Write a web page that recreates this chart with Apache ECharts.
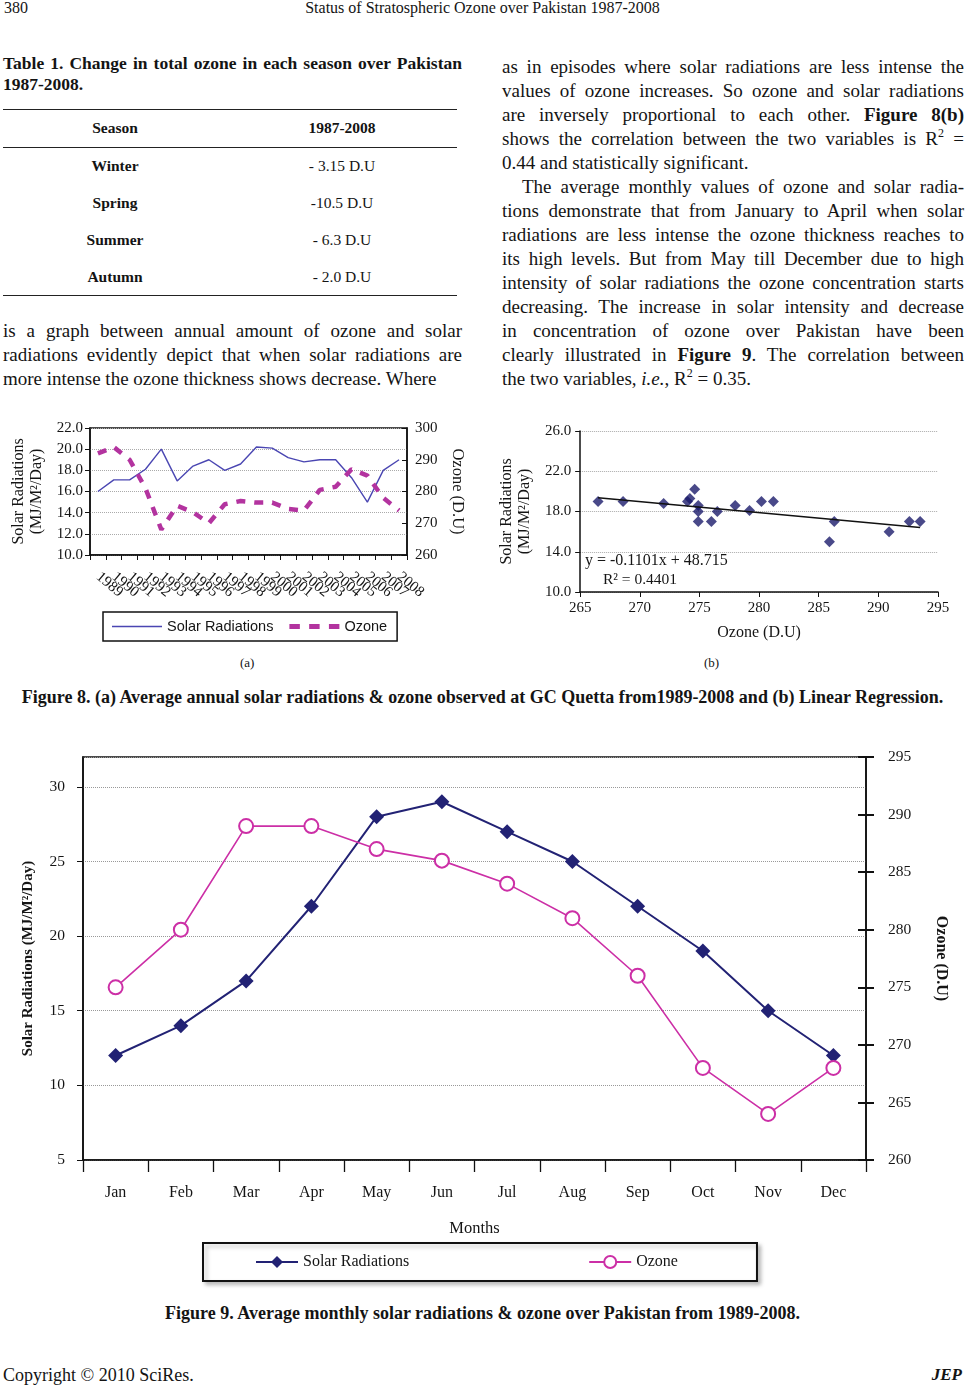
<!DOCTYPE html>
<html><head><meta charset="utf-8">
<script src="https://cdn.jsdelivr.net/npm/echarts@6/dist/echarts.min.js"></script>
<style>
body{margin:0;width:965px;height:1386px;position:relative;background:#fff;font-family:'Liberation Serif','Times New Roman',serif;color:#141414;overflow:hidden}
.a{position:absolute}
.jl{text-align:justify;text-align-last:justify;white-space:nowrap}
.ll{text-align:left;white-space:nowrap}
.body{font-size:19px;line-height:24px}
.rule{position:absolute;left:3px;width:454px;height:0;border-top:1.3px solid #222}
.cell{position:absolute;font-size:15.5px;line-height:18px;transform:translate(-50%,-50%);white-space:nowrap}
sup{font-size:12px;line-height:0;vertical-align:8px}
</style></head>
<body>
<div class="a" style="left:4px;top:-1px;font-size:16px;">380</div>
<div class="a" style="left:0;width:965px;top:-1px;font-size:16px;text-align:center;">Status of Stratospheric Ozone over Pakistan 1987-2008</div>

<div class="a" style="left:3px;width:459px;top:53px;font-size:17.5px;line-height:21px;font-weight:bold;">
<div class="jl">Table 1. Change in total ozone in each season over Pakistan</div>
<div class="ll">1987-2008.</div>
</div>
<div class="rule" style="top:109px"></div>
<div class="rule" style="top:147px"></div>
<div class="rule" style="top:295px"></div>
<div class="cell" style="left:115px;top:128px;font-weight:bold">Season</div>
<div class="cell" style="left:342px;top:128px;font-weight:bold">1987-2008</div>
<div class="cell" style="left:115px;top:166px;font-weight:bold">Winter</div>
<div class="cell" style="left:342px;top:166px;">- 3.15 D.U</div>
<div class="cell" style="left:115px;top:203px;font-weight:bold">Spring</div>
<div class="cell" style="left:342px;top:203px;">-10.5 D.U</div>
<div class="cell" style="left:115px;top:240px;font-weight:bold">Summer</div>
<div class="cell" style="left:342px;top:240px;">- 6.3 D.U</div>
<div class="cell" style="left:115px;top:277px;font-weight:bold">Autumn</div>
<div class="cell" style="left:342px;top:277px;">- 2.0 D.U</div>

<div class="a body" style="left:3px;width:459px;top:319px;">
<div class="jl">is a graph between annual amount of ozone and solar</div>
<div class="jl">radiations evidently depict that when solar radiations are</div>
<div class="ll">more intense the ozone thickness shows decrease. Where</div>
</div>

<div class="a body" style="left:502px;width:462px;top:55px;">
<div class="jl">as in episodes where solar radiations are less intense the</div>
<div class="jl">values of ozone increases. So ozone and solar radiations</div>
<div class="jl">are inversely proportional to each other. <b>Figure 8(b)</b></div>
<div class="jl">shows the correlation between the two variables is R<sup>2</sup> =</div>
<div class="ll">0.44 and statistically significant.</div>
<div class="jl" style="padding-left:20px">The average monthly values of ozone and solar radia-</div>
<div class="jl">tions demonstrate that from January to April when solar</div>
<div class="jl">radiations are less intense the ozone thickness reaches to</div>
<div class="jl">its high levels. But from May till December due to high</div>
<div class="jl">intensity of solar radiations the ozone concentration starts</div>
<div class="jl">decreasing. The increase in solar intensity and decrease</div>
<div class="jl">in concentration of ozone over Pakistan have been</div>
<div class="jl">clearly illustrated in <b>Figure 9</b>. The correlation between</div>
<div class="ll">the two variables, <i>i.e.</i>, R<sup>2</sup> = 0.35.</div>
</div>

<div id="c1" class="a" style="left:0;top:410px;width:480px;height:245px;"></div>
<div id="c2" class="a" style="left:490px;top:410px;width:475px;height:245px;"></div>
<div class="a" style="left:240px;top:655px;font-size:13px;">(a)</div>
<div class="a" style="left:704px;top:655px;font-size:13px;">(b)</div>
<div class="a" style="left:0;width:965px;top:687px;font-size:18px;font-weight:bold;text-align:center;white-space:nowrap;">Figure 8. (a) Average annual solar radiations &amp; ozone observed at GC Quetta from1989-2008 and (b) Linear Regression.</div>

<div id="c3" class="a" style="left:0;top:740px;width:965px;height:560px;"></div>
<div class="a" style="left:0;width:965px;top:1303px;font-size:18px;font-weight:bold;text-align:center;">Figure 9. Average monthly solar radiations &amp; ozone over Pakistan from 1989-2008.</div>

<div class="a" style="left:3px;top:1365px;font-size:18px;">Copyright © 2010 SciRes.</div>
<div class="a" style="right:3px;top:1365px;font-size:17px;font-weight:bold;font-style:italic;">JEP</div>

<script>
// ---------- Figure 8(a) data ----------
const years = ['1989','1990','1991','1992','1993','1994','1995','1996','1997','1998','1999','2000','2001','2002','2003','2004','2005','2006','2007','2008'];
const annualSolar = [16.0,17.1,17.1,18.1,20.0,17.0,18.4,19.0,18.0,18.6,20.2,20.1,19.2,18.8,19.0,19.0,17.3,15.0,18.0,19.0];
const annualOzone = [292,294,290,281,268,275.5,273.5,270,276,277,276.5,276.5,274.5,274,280.5,281.5,287,285,278,274];

// ---------- Figure 8(b) data ----------
const scatterOzone = [266.5,268.6,272.0,274.0,274.2,274.6,274.9,274.9,274.9,276.0,276.5,278.0,279.2,280.2,281.2,285.9,286.3,290.9,292.6,293.5];
const scatterSolar = [19.0,19.0,18.8,19.0,19.3,20.2,18.6,18.0,17.0,17.0,18.0,18.6,18.1,19.0,19.0,15.0,17.0,16.0,17.0,17.0];
const trendSlope = -0.1101;
const trendIntercept = 48.715;
const trendR2 = 0.4401;

// ---------- Figure 9 data ----------
const months = ['Jan','Feb','Mar','Apr','May','Jun','Jul','Aug','Sep','Oct','Nov','Dec'];
const monthlySolar = [12,14,17,22,28,29,27,25,22,19,15,12];
const monthlyOzone = [275,280,289,289,287,286,284,281,276,268,264,268];

const SERIF = "'Liberation Serif','Times New Roman',serif";
const SANS = "'Liberation Sans',Arial,sans-serif";
const INK = '#151515';

// ----- Chart 1 -----
const c1 = echarts.init(document.getElementById('c1'));
c1.setOption({
  animation:false,
  grid:{left:90,top:18,width:317,height:127,show:true,borderColor:'#111',borderWidth:1.5},
  legend:{
    left:103, top:202, orient:'horizontal',
    borderColor:'#111', borderWidth:1.5, padding:[7,10,7,9], itemGap:16,
    itemWidth:50, itemHeight:10,
    textStyle:{fontFamily:SANS,fontSize:14.5,color:INK},
    data:[
      {name:'Solar Radiations', icon:'path://M0,0h50v1.4h-50z'},
      {name:'Ozone', icon:'path://M0,0h9v4.5h-9z M17,0h9v4.5h-9z M34,0h9v4.5h-9z'}
    ]
  },
  xAxis:{
    type:'category', data:years, boundaryGap:true,
    axisLine:{lineStyle:{color:'#111',width:1.5}},
    axisTick:{show:true,interval:0,length:5,lineStyle:{color:'#111'}},
    axisLabel:{interval:0,rotate:-40,fontFamily:SERIF,fontSize:15,color:INK,margin:20}
  },
  yAxis:[{
    type:'value', min:10, max:22, interval:2,
    name:'Solar Radiations\n(MJ/M²/Day)', nameLocation:'middle', nameGap:42, nameRotate:90,
    nameTextStyle:{fontFamily:SERIF,fontSize:16,color:INK,lineHeight:18},
    axisLine:{show:true,lineStyle:{color:'#111',width:1.5}},
    axisTick:{show:true,length:5,lineStyle:{color:'#111'}},
    axisLabel:{fontFamily:SERIF,fontSize:15,color:INK,margin:7,formatter:v=>v.toFixed(1)},
    splitLine:{show:true,lineStyle:{color:'#aaa',type:'dotted',width:1}}
  },{
    type:'value', min:260, max:300, interval:10, position:'right',
    name:'Ozone (D.U)', nameLocation:'middle', nameGap:42, nameRotate:-90,
    nameTextStyle:{fontFamily:SERIF,fontSize:16.5,color:INK},
    axisLine:{show:true,lineStyle:{color:'#111',width:1.5}},
    axisTick:{show:true,inside:true,length:5,lineStyle:{color:'#111'}},
    axisLabel:{fontFamily:SERIF,fontSize:15,color:INK,margin:8},
    splitLine:{show:false}
  }],
  series:[{
    name:'Solar Radiations', type:'line', data:annualSolar, yAxisIndex:0,
    symbol:'none', color:'#4a46b2', lineStyle:{width:1.4,color:'#4a46b2'}
  },{
    name:'Ozone', type:'line', data:annualOzone, yAxisIndex:1,
    symbol:'none', color:'#b3339f', lineStyle:{width:4.5,color:'#b3339f',type:[9,9]}
  }]
});

// ----- Chart 2 -----
const c2 = echarts.init(document.getElementById('c2'));
const xMin = Math.min(...scatterOzone), xMax = Math.max(...scatterOzone);
c2.setOption({
  animation:false,
  grid:{left:90,top:21,width:358,height:161},
  xAxis:{
    type:'value', min:265, max:295, interval:5,
    name:'Ozone (D.U)', nameLocation:'middle', nameGap:33,
    nameTextStyle:{fontFamily:SERIF,fontSize:16,color:INK},
    axisLine:{show:true,lineStyle:{color:'#111',width:1.5}},
    axisTick:{show:true,length:5,lineStyle:{color:'#111'}},
    axisLabel:{fontFamily:SERIF,fontSize:15,color:INK,margin:9},
    splitLine:{show:false}
  },
  yAxis:{
    type:'value', min:10, max:26, interval:4,
    name:'Solar Radiations\n(MJ/M²/Day)', nameLocation:'middle', nameGap:42, nameRotate:90,
    nameTextStyle:{fontFamily:SERIF,fontSize:16,color:INK,lineHeight:18},
    axisLine:{show:true,lineStyle:{color:'#111',width:1.5}},
    axisTick:{show:true,length:5,lineStyle:{color:'#111'}},
    axisLabel:{fontFamily:SERIF,fontSize:15,color:INK,margin:9,formatter:v=>v.toFixed(1)},
    splitLine:{show:true,lineStyle:{color:'#aaa',type:'dotted',width:1}}
  },
  graphic:[
    {type:'text',left:95,top:143,style:{text:'y = '+trendSlope.toFixed(4)+'x + '+trendIntercept.toFixed(3),font:'16px '+SERIF,fill:INK}},
    {type:'text',left:113,top:162,style:{text:'R² = '+trendR2.toFixed(4),font:'15.5px '+SERIF,fill:INK}}
  ],
  series:[{
    type:'scatter', data:scatterOzone.map((x,i)=>[x,scatterSolar[i]]),
    symbol:'diamond', symbolSize:11, itemStyle:{color:'#1c1c6c'}
  },{
    type:'line', data:[[xMin,trendSlope*xMin+trendIntercept],[xMax,trendSlope*xMax+trendIntercept]],
    symbol:'none', lineStyle:{color:'#111',width:1.5}
  }]
});

// ----- Chart 3 -----
const c3 = echarts.init(document.getElementById('c3'));
const rightAxisBase = {type:'value', min:260, max:295, interval:5, position:'right'};
c3.setOption({
  animation:false,
  grid:{left:83,top:17,width:783,height:403,show:true,borderColor:'#111',borderWidth:1.6},
  legend:{
    left:203, top:503, orient:'horizontal',
    borderColor:'#111', borderWidth:2, backgroundColor:'#fff',
    shadowColor:'rgba(0,0,0,0.25)', shadowBlur:4, shadowOffsetX:3, shadowOffsetY:3,
    padding:[11,79,11,52], itemGap:179, itemWidth:42, itemHeight:15,
    textStyle:{fontFamily:SERIF,fontSize:16,color:INK},
    data:['Solar Radiations','Ozone']
  },
  xAxis:{
    type:'category', data:months, boundaryGap:true,
    name:'Months', nameLocation:'middle', nameGap:60,
    nameTextStyle:{fontFamily:SERIF,fontSize:16.5,color:INK},
    axisLine:{lineStyle:{color:'#111',width:1.6}},
    axisTick:{show:true,interval:0,length:12,lineStyle:{color:'#111',width:1.3}},
    axisLabel:{interval:0,fontFamily:SERIF,fontSize:16,color:INK,margin:25}
  },
  yAxis:[{
    type:'value', min:5, max:32, interval:5,
    name:'Solar Radiations (MJ/M²/Day)', nameLocation:'middle', nameGap:47, nameRotate:90,
    nameTextStyle:{fontFamily:SERIF,fontSize:15,fontWeight:'bold',color:INK},
    axisLine:{show:true,lineStyle:{color:'#111',width:1.6}},
    axisTick:{show:true,length:6,lineStyle:{color:'#111'}},
    axisLabel:{fontFamily:SERIF,fontSize:15.5,color:INK,margin:18,showMaxLabel:false},
    splitLine:{show:true,lineStyle:{color:'#999',type:'dotted',width:1}}
  },
  Object.assign({}, rightAxisBase, {
    name:'Ozone (D.U)', nameLocation:'middle', nameGap:67, nameRotate:-90,
    nameTextStyle:{fontFamily:SERIF,fontSize:16,fontWeight:'bold',color:INK},
    axisLine:{show:true,lineStyle:{color:'#111',width:1.6}},
    axisTick:{show:true,length:8,lineStyle:{color:'#111',width:2}},
    axisLabel:{fontFamily:SERIF,fontSize:15.5,color:INK,margin:22},
    splitLine:{show:false}
  }),
  Object.assign({}, rightAxisBase, {
    axisLine:{show:false},
    axisTick:{show:true,inside:true,length:8,lineStyle:{color:'#111',width:2}},
    axisLabel:{show:false},
    splitLine:{show:false}
  })],
  series:[{
    name:'Solar Radiations', type:'line', data:monthlySolar, yAxisIndex:0,
    symbol:'diamond', symbolSize:15, color:'#222274',
    itemStyle:{color:'#222274'}, lineStyle:{width:2,color:'#222274'}
  },{
    name:'Ozone', type:'line', data:monthlyOzone, yAxisIndex:1,
    symbol:'emptyCircle', symbolSize:14, color:'#cc2fa6',
    itemStyle:{color:'#cc2fa6',borderWidth:1.5},
    lineStyle:{width:1.6,color:'#cc2fa6'}
  }]
});
</script>
</body></html>
